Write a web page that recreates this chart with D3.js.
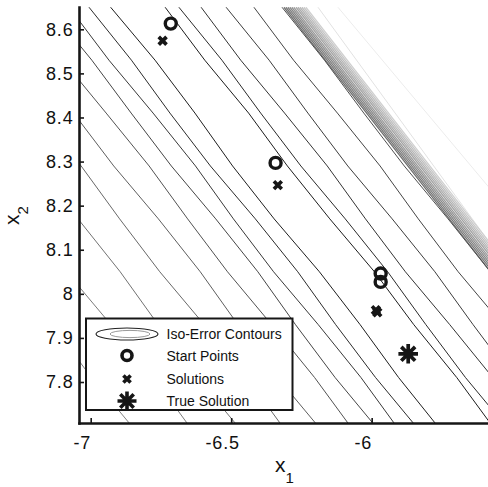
<!DOCTYPE html>
<html>
<head>
<meta charset="utf-8">
<script src="https://cdn.jsdelivr.net/npm/d3@7"></script>
<style>
  body { margin: 0; background: #fff; }
  text { font-family: "Liberation Sans", Arial, sans-serif; fill: #111; }
</style>
</head>
<body>
<svg id="chart" width="488" height="487"></svg>
<script>
var levelY = [8.65, 8.53, 8.41, 8.29, 8.17, 8.05, 7.93, 7.81, 7.69]

// x1 of each contour at those heights, lower-left side of the valley (inner -> outer)
var leftContours = [
  [-6.929, -6.771, -6.629, -6.495, -6.347, -6.186, -6.041, -5.904, -5.753],
  [-7.006, -6.855, -6.718, -6.574, -6.414, -6.263, -6.128, -5.986, -5.830],
  [-7.077, -6.935, -6.778, -6.627, -6.492, -6.349, -6.190, -6.038, -5.901],
  [-7.150, -6.996, -6.856, -6.713, -6.555, -6.405, -6.271, -6.130, -5.974],
  [-7.241, -7.100, -6.945, -6.792, -6.655, -6.513, -6.356, -6.203, -6.065],
  [-7.354, -7.200, -7.061, -6.918, -6.759, -6.610, -6.476, -6.335, -6.178],
  [-7.483, -7.342, -7.186, -7.034, -6.897, -6.754, -6.596, -6.444, -6.307],
  [-7.640, -7.486, -7.347, -7.204, -7.045, -6.895, -6.760, -6.620, -6.464],
  [-7.814, -7.672, -7.515, -7.364, -7.229, -7.086, -6.928, -6.775, -6.638],
  [-8.017, -7.863, -7.724, -7.582, -7.425, -7.274, -7.138, -6.997, -6.841]
]

// upper-right side of the valley (inner -> outer); the first one runs through the start points
var rightContours = [
  [-6.735, -6.594, -6.438, -6.300, -6.149, -5.990, -5.850, -5.697, -5.559],
  [-6.686, -6.533, -6.395, -6.252, -6.094, -5.943, -5.807, -5.666, -5.510],
  [-6.607, -6.466, -6.310, -6.158, -6.022, -5.880, -5.722, -5.569, -5.431],
  [-6.518, -6.365, -6.227, -6.085, -5.927, -5.775, -5.639, -5.498, -5.342],
  [-6.419, -6.278, -6.122, -5.970, -5.834, -5.692, -5.534, -5.381, -5.243],
  [-6.319, -6.168, -6.028, -5.884, -5.728, -5.578, -5.440, -5.298, -5.143]
]

// the packed band of contours at the top right (x1 at the top and bottom level)
var bandTop = [-6.312, -6.305, -6.298, -6.291, -6.284, -6.277, -6.269, -6.262, -6.255, -6.248, -6.241, -6.234]
var bandBottom = [-5.136, -5.129, -5.122, -5.115, -5.108, -5.101, -5.093, -5.086, -5.079, -5.072, -5.065, -5.058]

// faint outer contours
var faintTop = [-6.191, -6.120]
var faintBottom = [-5.093, -4.857]

var startX = [-6.715, -6.342, -5.968, -5.968]
var startY = [8.613, 8.297, 8.046, 8.027]
var solX = [-6.744, -6.334, -5.985, -5.980]
var solY = [8.574, 8.2465, 7.963, 7.958]
var trueX = [-5.870]
var trueY = [7.864]

var xTicks = [-7, -6.5, -6]
var yTicks = [7.8, 7.9, 8.0, 8.1, 8.2, 8.3, 8.4, 8.5, 8.6]
var legendLabels = ['Iso-Error Contours', 'Start Points', 'Solutions', 'True Solution']

// styles
var leftColors = ['#1e1e1e', '#2b2b2b', '#383838', '#454545', '#525252', '#5e5e5e', '#686868', '#727272', '#7b7b7b', '#838383']
var rightColors = ['#1c1c1c', '#2a2a2a', '#333', '#3c3c3c', '#444', '#4e4e4e']
var ink = '#161616'

var margin = { top: 7, left: 79, right: 0, bottom: 64 }
var width = 488 - margin.left - margin.right
var height = 487 - margin.top - margin.bottom

var svg = d3.select('#chart')

var xPositionScale = d3.scaleLinear().domain([-7.0416, -5.586]).range([0, width])
var yPositionScale = d3.scaleLinear().domain([7.707, 8.6506]).range([height, 0])

var g = svg.append('g').attr('transform', 'translate(' + margin.left + ',' + margin.top + ')')

g.append('clipPath')
  .attr('id', 'plot-clip')
  .append('rect')
  .attr('width', width)
  .attr('height', height)

var plot = g.append('g').attr('clip-path', 'url(#plot-clip)')

var line = d3
  .line()
  .x(d => xPositionScale(d[0]))
  .y(d => yPositionScale(d[1]))

// faint contours first, then the band, then the main ones
faintTop.forEach(function(x0, i) {
  plot.append('path')
    .datum([[x0, levelY[0]], [faintBottom[i], levelY[levelY.length - 1]]])
    .attr('d', line)
    .attr('fill', 'none')
    .attr('stroke', i === 0 ? '#e2e2e2' : '#ececec')
    .attr('stroke-width', 1)
})

var bandColor = d3.scaleLinear().domain([0, bandTop.length - 1]).range(['#6e6e6e', '#cfcfcf'])
bandTop.forEach(function(x0, i) {
  plot.append('path')
    .datum([[x0, levelY[0]], [bandBottom[i], levelY[levelY.length - 1]]])
    .attr('d', line)
    .attr('fill', 'none')
    .attr('stroke', bandColor(i))
    .attr('stroke-width', 1.3)
})

function drawContours(list, colors) {
  list.forEach(function(xs, i) {
    plot.append('path')
      .datum(xs.map((x, k) => [x, levelY[k]]))
      .attr('d', line)
      .attr('fill', 'none')
      .attr('stroke', colors[i])
      .attr('stroke-width', 1)
      .attr('stroke-linejoin', 'round')
  })
}
drawContours(leftContours, leftColors)
drawContours(rightContours, rightColors)

// markers
function crossPath(s) {
  return 'M' + -s + ',' + -s + 'L' + s + ',' + s + 'M' + -s + ',' + s + 'L' + s + ',' + -s
}
function starPath(s) {
  var d = 0.7071 * s
  return 'M' + -s + ',0L' + s + ',0M0,' + -s + 'L0,' + s +
    'M' + -d + ',' + -d + 'L' + d + ',' + d + 'M' + -d + ',' + d + 'L' + d + ',' + -d
}

startX.forEach(function(x, i) {
  g.append('circle')
    .attr('cx', xPositionScale(x))
    .attr('cy', yPositionScale(startY[i]))
    .attr('r', 5.5)
    .attr('fill', 'none')
    .attr('stroke', ink)
    .attr('stroke-width', 3.4)
})

solX.forEach(function(x, i) {
  g.append('path')
    .attr('d', crossPath(3.9))
    .attr('transform', 'translate(' + xPositionScale(x) + ',' + yPositionScale(solY[i]) + ')')
    .attr('stroke', ink)
    .attr('stroke-width', 3.7)
})

trueX.forEach(function(x, i) {
  g.append('path')
    .attr('d', starPath(9.8))
    .attr('transform', 'translate(' + xPositionScale(x) + ',' + yPositionScale(trueY[i]) + ')')
    .attr('stroke', ink)
    .attr('stroke-width', 3.7)
})

// axes
var xAxis = d3.axisBottom(xPositionScale).tickValues(xTicks).tickFormat(d => String(d)).tickSizeInner(-5).tickSizeOuter(0).tickPadding(13.7)
var yAxis = d3.axisLeft(yPositionScale).tickValues(yTicks).tickFormat(d => String(d)).tickSizeInner(-5).tickSizeOuter(0).tickPadding(5.5)

var xg = g.append('g')
  .attr('class', 'axis x-axis')
  .attr('transform', 'translate(0,' + height + ')')
  .call(xAxis)
var yg = g.append('g')
  .attr('class', 'axis y-axis')
  .call(yAxis)

g.selectAll('.axis .domain').attr('stroke', ink).attr('stroke-width', 2.6).attr('stroke-linecap', 'square')
g.selectAll('.axis .tick line').attr('stroke', ink).attr('stroke-width', 1.6)
g.selectAll('.axis text')
  .attr('font-size', 18)
  .attr('letter-spacing', 0.8)
  .attr('fill', ink)
  .attr('font-family', '"Liberation Sans", Arial, sans-serif')
xg.selectAll('text').attr('dx', -9)

// legend
var legend = svg.append('g').attr('transform', 'translate(86,318.5)')
legend.append('rect')
  .attr('width', 206.5)
  .attr('height', 91.5)
  .attr('fill', '#fff')
  .attr('stroke', ink)
  .attr('stroke-width', 2)

var rowY = [15.5, 37, 60.5, 82.5]
legend.append('ellipse').attr('cx', 41).attr('cy', rowY[0]).attr('rx', 31).attr('ry', 6)
  .attr('fill', 'none').attr('stroke', '#222').attr('stroke-width', 1.1)
legend.append('ellipse').attr('cx', 44).attr('cy', rowY[0]).attr('rx', 20).attr('ry', 3.6)
  .attr('fill', 'none').attr('stroke', '#999').attr('stroke-width', 1)
legend.append('circle').attr('cx', 41).attr('cy', rowY[1]).attr('r', 5)
  .attr('fill', 'none').attr('stroke', ink).attr('stroke-width', 3.6)
legend.append('path').attr('d', crossPath(3.6)).attr('transform', 'translate(41,' + rowY[2] + ')')
  .attr('stroke', ink).attr('stroke-width', 3.6)
legend.append('path').attr('d', starPath(9.5)).attr('transform', 'translate(41,' + rowY[3] + ')')
  .attr('stroke', ink).attr('stroke-width', 3.6)

legend.selectAll('.legend-label')
  .data(legendLabels)
  .enter()
  .append('text')
  .attr('class', 'legend-label')
  .attr('x', 80.5)
  .attr('y', (d, i) => rowY[i])
  .attr('dy', '0.36em')
  .attr('font-size', 14)
  .text(d => d)

// axis titles
var xTitle = svg.append('text').attr('x', 275).attr('y', 472).attr('font-size', 21).text('x')
xTitle.append('tspan').attr('font-size', 15).attr('dy', 11).text('1')

var yTitle = svg.append('text')
  .attr('transform', 'translate(19,225) rotate(-90)')
  .attr('font-size', 21)
  .text('x')
yTitle.append('tspan').attr('font-size', 15).attr('dy', 9).text('2')
</script>
</body>
</html>
